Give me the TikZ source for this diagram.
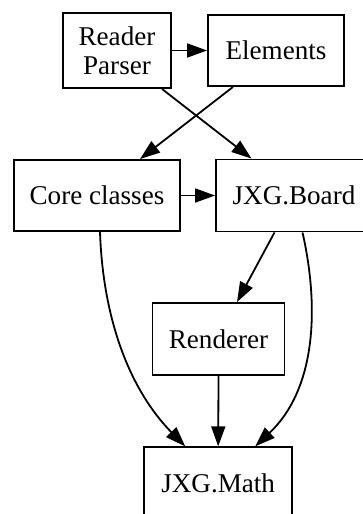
\documentclass[tikz,border=0pt]{standalone}
\usepackage{fontspec}
\setmainfont{Liberation Serif}
\usetikzlibrary{arrows.meta}
\begin{document}
\begin{tikzpicture}[x=1pt,y=-1pt,
  box/.style={draw, line width=1.9pt, inner sep=0pt, align=center,
    font=\fontsize{27.1}{29.5}\selectfont},
  edge/.style={line width=1.8pt, -{Triangle[length=20pt,width=14pt]}}]
\useasboundingbox (0,0) rectangle (363,514);
\clip (0,0) rectangle (363,514);

% modules
\node[box, minimum width=108pt, minimum height=75pt] (reader) at (117,50.5) {Reader\\Parser};
\node[box, minimum width=136pt, minimum height=71pt] (elements) at (276,50.5) {Elements};
\node[box, minimum width=166pt, minimum height=71pt] (core) at (97,195.5) {Core classes};
\node[box, minimum width=156pt, minimum height=72pt] (board) at (294,195.5) {JXG.Board};
\node[box, minimum width=132pt, minimum height=72pt] (renderer) at (218.5,339) {Renderer};
\node[box, minimum width=148pt, minimum height=72pt] (math) at (218.2,483.3) {JXG.Math};

% dependencies
\draw[edge] (reader.east) -- (elements.west);
\draw[edge] ([xshift=45pt]reader.south) -- ([xshift=-42.5pt]board.north);
\draw[edge] ([xshift=-43pt]elements.south) -- ([xshift=43pt]core.north);
\draw[edge] (core.east) -- (board.west);
\draw[edge] ([xshift=-19.5pt]board.south) -- ([xshift=18.5pt]renderer.north);
\draw[edge] (renderer.south) -- (math.north);
\draw[edge] ([xshift=3pt]core.south) .. controls (103,320) and (130,390) .. ([xshift=-33pt]math.north);
\draw[edge] ([xshift=8.5pt]board.south) .. controls (320,310) and (315,390) .. ([xshift=37pt]math.north);
\end{tikzpicture}
\end{document}
